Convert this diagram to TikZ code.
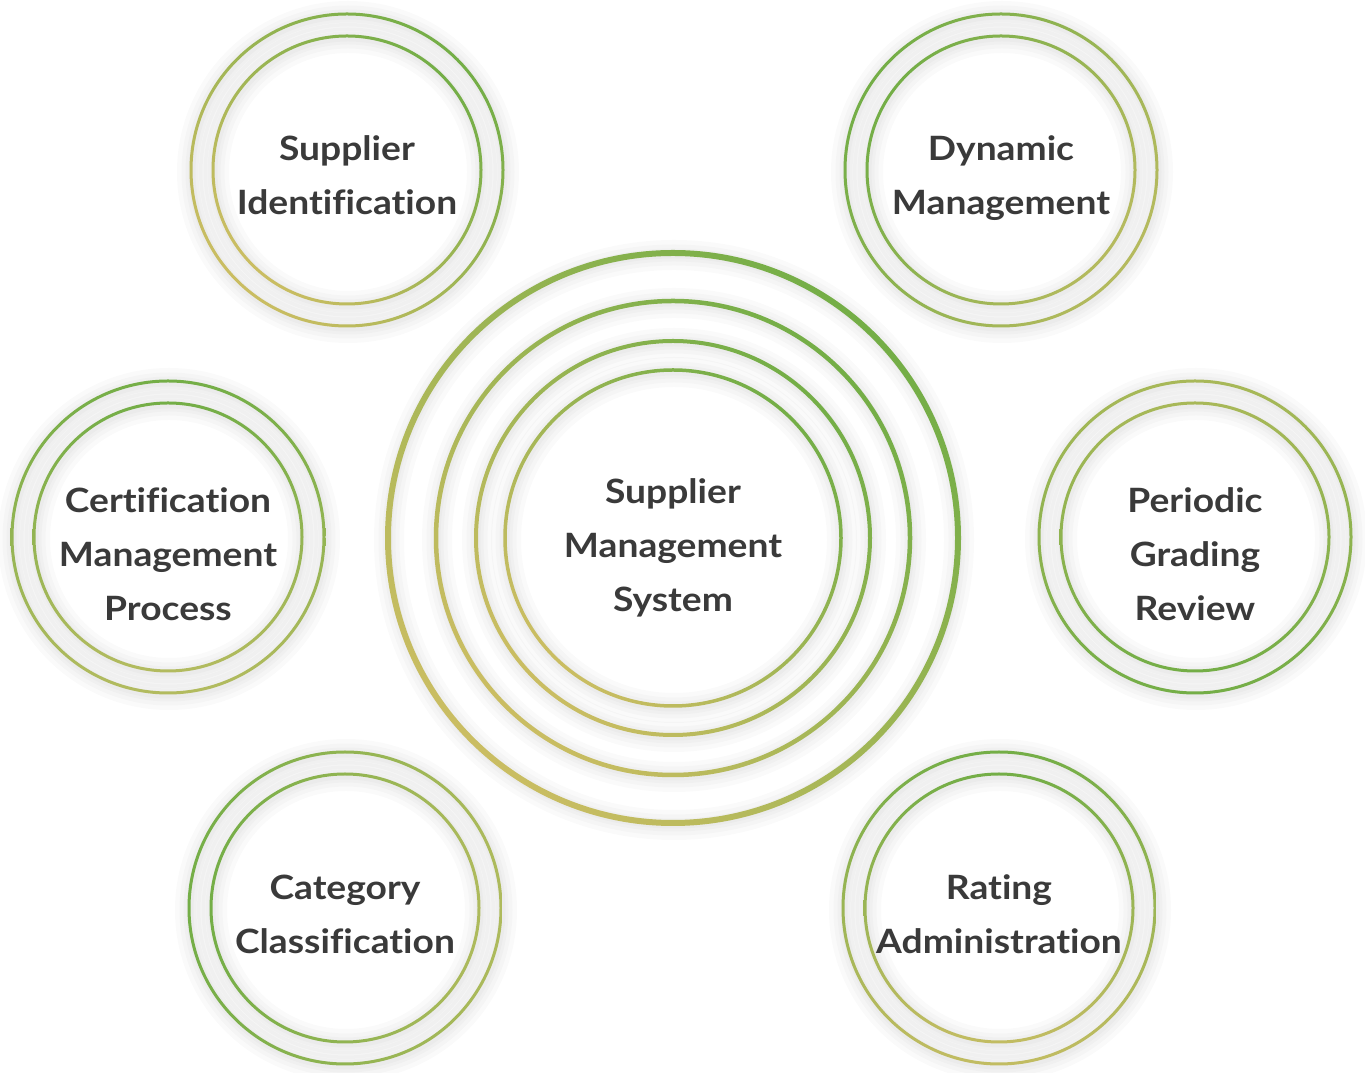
\documentclass[tikz,border=0pt]{standalone}
\usepackage{fontspec}
\setmainfont{Lato}[Ligatures={NoCommon,NoRequired,NoContextual}, RawFeature={-liga;-clig;-dlig}, FakeStretch=1.11]
\definecolor{rgreen}{HTML}{74AE47}
\definecolor{ryellow}{HTML}{CABD62}
\definecolor{olA}{HTML}{B5BA5E}
\definecolor{olB}{HTML}{B3BB5F}
\definecolor{olC}{HTML}{A8B858}
\definecolor{olD}{HTML}{AEBA5C}
\definecolor{olE}{HTML}{C2BC62}
\definecolor{txt}{HTML}{3A3A3A}
\tikzset{
  lbl/.style={font=\fontsize{33.5}{54}\selectfont\bfseries, text=txt, align=center, inner sep=0pt},
}
\newcommand\myring[5]{%
  \foreach \w in {30,21,13,7} {\draw[black, opacity=0.018, line width=\w pt] ([xshift=1pt,yshift=-2pt]#1) circle (#2);}
  \shade[even odd rule, top color=rgreen, bottom color=#5, shading angle=#4]
     (#1) circle ({#2+#3/2}) (#1) circle ({#2-#3/2});
}
\begin{document}
\begin{tikzpicture}[x=1pt,y=1pt]
\fill[white] (0,0) rectangle (1365,1073);
\useasboundingbox (0,0) rectangle (1365,1073);
\coordinate (si) at (347,903);
\coordinate (dm) at (1001,903);
\coordinate (cm) at (168,536);
\coordinate (pg) at (1195,536);
\coordinate (cc) at (345,165);
\coordinate (ra) at (999,165);
\coordinate (sm) at (673,535);
% small circles
\myring{si}{156}{3}{-45}{ryellow}
\myring{si}{134}{3}{-45}{ryellow}
\myring{dm}{156}{3}{60}{olA}
\myring{dm}{134}{3}{60}{olA}
\myring{cm}{156}{3}{0}{olB}
\myring{cm}{134}{3}{0}{olB}
\myring{pg}{156}{3}{180}{olC}
\myring{pg}{134}{3}{180}{olC}
\myring{cc}{156}{3}{90}{olD}
\myring{cc}{134}{3}{90}{olD}
\myring{ra}{156}{3}{0}{olE}
\myring{ra}{134}{3}{0}{olE}
% central rings
\myring{sm}{285}{6}{-45}{ryellow}
\myring{sm}{237}{4.5}{-45}{ryellow}
\myring{sm}{197}{4}{-45}{ryellow}
\myring{sm}{168}{3.5}{-45}{ryellow}
% labels
\node[lbl] (tsi) at ([yshift=-5.5pt]si) {Supplier\\Identification};
\node[lbl] (tdm) at ([yshift=-8.5pt]dm) {Dynamic\\Management};
\node[lbl] (tcm) at ([yshift=-17.5pt]cm) {Certification\\Management\\Process};
\node[lbl] (tpg) at ([yshift=-17.5pt]pg) {Periodic\\Grading\\Review};
\node[lbl] (tcc) at ([yshift=-6.5pt]cc) {Category\\Classification};
\node[lbl] (tra) at ([yshift=-6.5pt]ra) {Rating\\Administration};
\node[lbl] (tsm) at ([yshift=-9.5pt]sm) {Supplier\\Management\\System};
\end{tikzpicture}
\end{document}
